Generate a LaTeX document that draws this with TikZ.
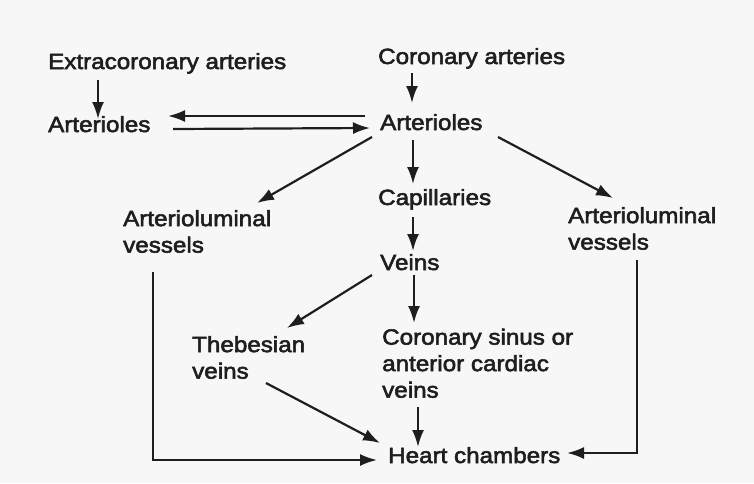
\documentclass[tikz,border=0pt]{standalone}
\usepackage{fontspec}
\setmainfont{Liberation Sans}[FakeStretch=1.1,FakeBold=2.5]
\usetikzlibrary{arrows.meta,calc}
\definecolor{ink}{HTML}{1E1E1E}
\tikzset{
  lbl/.style={inner sep=0pt, text=ink, font=\fontsize{22pt}{26.5pt}\selectfont},
  one/.style={lbl, anchor=base west},
  multi/.style={lbl, anchor=south west, align=left},
  flow/.style={draw=ink, line width=2.2pt, -{Latex[length=17pt,width=12pt]}}
}
\begin{document}
\begin{tikzpicture}[x=1pt,y=-1pt]
\fill[black!3] (0,0) rectangle (754,483);
\useasboundingbox (0,0) rectangle (754,483);

\node[one] (ea) at (48,69) {Extracoronary arteries};
\node[one] (ca) at (378,64) {Coronary arteries};
\node[one] (al) at (48,132) {Arterioles};
\node[one] (ac) at (380,130) {Arterioles};
\node[one] (cap) at (378,205) {Capillaries};
\node[multi] (lv) at (123,253) {Arterioluminal\\vessels};
\node[multi] (rv) at (568,250) {Arterioluminal\\vessels};
\node[one] (vn) at (380,270) {Veins};
\node[multi] (th) at (192,379) {Thebesian\\veins};
\node[multi] (cs) at (382,398) {Coronary sinus or\\anterior cardiac\\veins};
\node[one] (hc) at (388,463) {Heart chambers};

\draw[flow] ($(ea.base west)+(50,11)$) -- ($(al.base west)+(50,-13)$);
\draw[flow] ($(ca.base west)+(34,9)$) -- ($(ac.base west)+(32,-27)$);
\draw[flow] ($(ac.base west)+(-15,-14)$) -- ($(al.base west)+(120,-16)$);
\draw[flow] ($(al.base west)+(125,-3)$) -- ($(ac.base west)+(-10,-2)$);
\draw[flow] ($(ac.base west)+(-8,7)$) -- ($(lv.south west)+(134,-50)$);
\draw[flow] ($(ac.base west)+(33,10)$) -- ($(cap.base west)+(35,-21)$);
\draw[flow] ($(ac.base west)+(118,7)$) -- ($(rv.south west)+(45,-52)$);
\draw[flow] ($(cap.base west)+(35,12)$) -- ($(vn.base west)+(33,-19)$);
\draw[flow] ($(vn.base west)+(-8,5)$) -- ($(th.south west)+(95,-51)$);
\draw[flow] ($(vn.base west)+(34,5)$) -- ($(cs.south west)+(32,-75)$);
\draw[flow] ($(th.south west)+(74,4)$) -- ($(hc.base west)+(-8,-20)$);
\draw[flow] ($(cs.south west)+(36,9)$) -- ($(hc.base west)+(30,-16)$);
\draw[flow] ($(lv.south west)+(30,19)$) |- ($(hc.base west)+(-11,-3)$);
\draw[flow] ($(rv.south west)+(69,10)$) |- ($(hc.base west)+(179,-10)$);
\end{tikzpicture}
\end{document}
